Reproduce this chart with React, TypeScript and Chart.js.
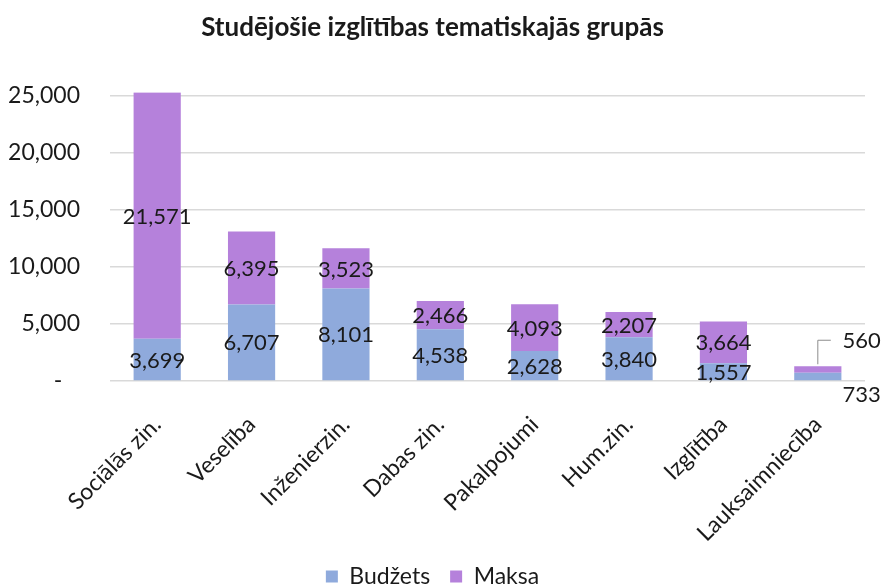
import React, { useEffect, useRef } from "react";
import { Chart, registerables } from "chart.js";

Chart.register(...registerables);

const categories = [
  "Sociālās zin.",
  "Veselība",
  "Inženierzin.",
  "Dabas zin.",
  "Pakalpojumi",
  "Hum.zin.",
  "Izglītība",
  "Lauksaimniecība",
];
const budzets = [3699, 6707, 8101, 4538, 2628, 3840, 1557, 733];
const maksa = [21571, 6395, 3523, 2466, 4093, 2207, 3664, 560];
const yTicks = [0, 5000, 10000, 15000, 20000, 25000];

const FONT = "Lato, 'Open Sans', sans-serif";

const fmt = (v: number) => v.toLocaleString("en-US");

const labelsPlugin = {
  id: "segLabels",
  afterDatasetsDraw(chart: any) {
    const ctx = chart.ctx;
    ctx.save();
    ctx.font = `22px ${FONT}`;
    ctx.fillStyle = "#1a1a1a";
    ctx.textBaseline = "middle";
    const last = categories.length - 1;
    chart.data.datasets.forEach((ds: any, di: number) => {
      const meta = chart.getDatasetMeta(di);
      meta.data.forEach((el: any, i: number) => {
        const { x, y, base, width } = el.getProps(["x", "y", "base", "width"], true);
        const txt = fmt(ds.data[i]);
        if (i === last) {
          ctx.textAlign = "left";
          const tx = x + width / 2 + 1;
          if (di === 1) {
            ctx.strokeStyle = "#8c8c8c";
            ctx.lineWidth = 1;
            ctx.beginPath();
            ctx.moveTo(x, y - 2);
            ctx.lineTo(x, y - 26);
            ctx.lineTo(x + 13, y - 26);
            ctx.stroke();
            ctx.fillText(txt, tx, y - 25);
          } else {
            ctx.fillText(txt, tx, base + 15);
          }
        } else {
          ctx.textAlign = "center";
          ctx.fillText(txt, x, (y + base) / 2 + 1);
        }
      });
    });
    ctx.restore();
  },
};

export default function App() {
  const ref = useRef<HTMLCanvasElement>(null);
  useEffect(() => {
    if (!ref.current) return;
    const chart = new Chart(ref.current, {
      type: "bar",
      data: {
        labels: categories,
        datasets: [
          {
            label: "Budžets",
            data: budzets,
            backgroundColor: "#8faadc",
            barPercentage: 0.5,
            categoryPercentage: 1,
          },
          {
            label: "Maksa",
            data: maksa,
            backgroundColor: "#b581db",
            barPercentage: 0.5,
            categoryPercentage: 1,
          },
        ],
      },
      options: {
        animation: false,
        responsive: false,
        maintainAspectRatio: false,
        layout: { padding: { left: 0, right: 20, top: 12, bottom: -11 } },
        plugins: {
          title: {
            display: true,
            text: "Studējošie izglītības tematiskajās grupās",
            color: "#1a1a1a",
            font: { family: FONT, size: 26, weight: "bold" },
            padding: { top: 0, bottom: 49 },
          },
          legend: {
            position: "bottom",
            labels: {
              color: "#1a1a1a",
              font: { family: FONT, size: 23 },
              boxWidth: 12,
              boxHeight: 12,
              padding: 20,
            },
          },
          tooltip: { enabled: false },
        },
        scales: {
          x: {
            stacked: true,
            grid: { display: false, drawTicks: false },
            border: { display: false },
            ticks: {
              color: "#1a1a1a",
              font: { family: FONT, size: 23 },
              minRotation: 45,
              maxRotation: 45,
              padding: 30,
            },
            afterFit: (s: any) => {
              s.height = 164;
            },
          },
          y: {
            stacked: true,
            min: 0,
            max: 25300,
            grid: { color: "#d9d9d9", drawTicks: false, lineWidth: 1.5 },
            border: { display: false },
            afterBuildTicks: (s: any) => {
              s.ticks = yTicks.map((v) => ({ value: v }));
            },
            ticks: {
              color: "#1a1a1a",
              font: { family: FONT, size: 23 },
              padding: 30,
              callback: (v: any) => (Number(v) === 0 ? "-   " : fmt(Number(v))),
            },
            afterFit: (s: any) => {
              s.width = 110;
            },
          },
        },
      },
      plugins: [labelsPlugin],
    });
    return () => chart.destroy();
  }, []);
  return (
    <div style={{ position: "fixed", left: 0, top: 0, width: 885, height: 587, background: "#fff" }}>
      <canvas ref={ref} width={885} height={587} />
    </div>
  );
}
